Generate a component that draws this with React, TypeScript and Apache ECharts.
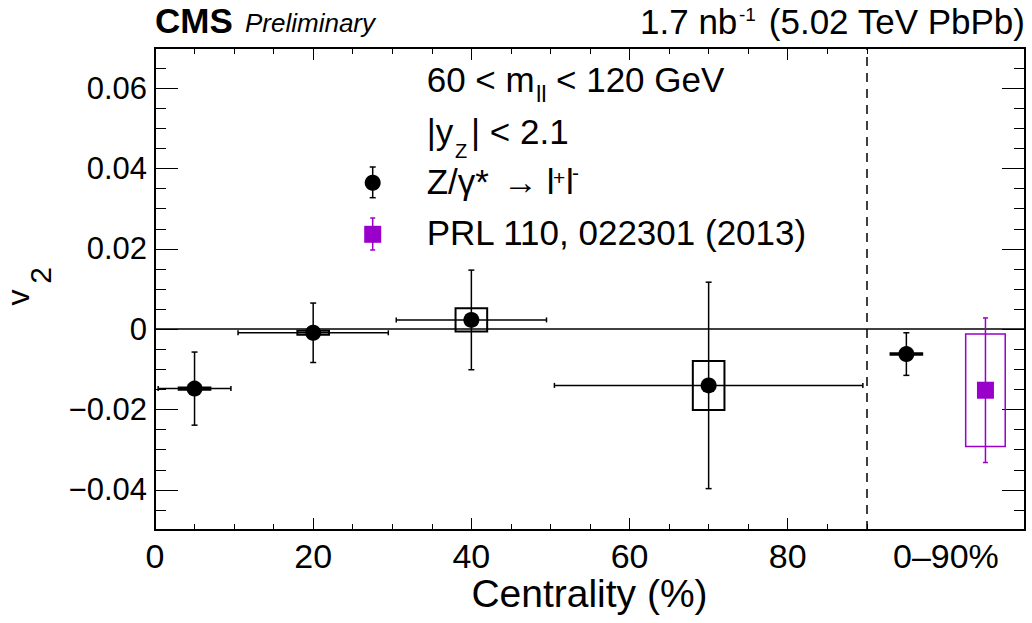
import React, { useEffect, useRef } from "react";
import * as echarts from "echarts";

// ---- data ----
const centrality = [5, 20, 40, 70, 95];
const v2 = [-0.0148, -0.0009, 0.0023, -0.014, -0.0062];
const statErr = [0.0091, 0.0074, 0.0124, 0.0257, 0.0053];
const sysErr = [0.0003, 0.0005, 0.0029, 0.0061, 0.0002];
const binHalfWidth = [4.6, 9.5, 9.5, 19.5, 0];
const boxHalfWidth = [2, 2, 2, 2, 2];

const prlX = [105];
const prlV2 = [-0.0152];
const prlStat = [0.018];
const prlSys = [0.014];
const prlBoxHalfWidth = [2.5];

const xMajorTicks = [0, 20, 40, 60, 80];
const xMinorTicks = [5, 10, 15, 25, 30, 35, 45, 50, 55, 65, 70, 75, 85, 90];
const xLabelValues = [0, 20, 40, 60, 80, 100];
const xLabelTexts = ["0", "20", "40", "60", "80", "0–90%"];
const yMajorTicks = [-0.04, -0.02, 0, 0.02, 0.04, 0.06];
const yLabelTexts = ["−0.04", "−0.02", "0", "0.02", "0.04", "0.06"];
const yMinorTicks = [
  -0.045, -0.035, -0.03, -0.025, -0.015, -0.01, -0.005, 0.005, 0.01, 0.015,
  0.025, 0.03, 0.035, 0.045, 0.05, 0.055, 0.065,
];
const dividerX = 90;

const FONT = "'Liberation Sans', Arial, Helvetica, sans-serif";
const PURPLE = "#9900cc";

function xLabel(v: number) {
  const i = xLabelValues.findIndex((t) => Math.abs(t - v) < 1e-6);
  return i >= 0 ? xLabelTexts[i] : "";
}
function yLabel(v: number) {
  const i = yMajorTicks.findIndex((t) => Math.abs(t - v) < 1e-9);
  return i >= 0 ? yLabelTexts[i] : "";
}

function errorBarRenderer(color: string, capV: number, capH: number) {
  return (params: any, api: any) => {
    const x = api.value(0);
    const y = api.value(1);
    const e = api.value(2);
    const xe = api.value(3);
    const top = api.coord([x, y + e]);
    const bot = api.coord([x, y - e]);
    const st = { stroke: color, lineWidth: 1.5 };
    const children: any[] = [
      { type: "line", shape: { x1: top[0], y1: top[1], x2: bot[0], y2: bot[1] }, style: st },
      { type: "line", shape: { x1: top[0] - capV, y1: top[1], x2: top[0] + capV, y2: top[1] }, style: st },
      { type: "line", shape: { x1: bot[0] - capV, y1: bot[1], x2: bot[0] + capV, y2: bot[1] }, style: st },
    ];
    if (xe > 0) {
      const l = api.coord([x - xe, y]);
      const r = api.coord([x + xe, y]);
      children.push(
        { type: "line", shape: { x1: l[0], y1: l[1], x2: r[0], y2: r[1] }, style: st },
        { type: "line", shape: { x1: l[0], y1: l[1] - capH, x2: l[0], y2: l[1] + capH }, style: st },
        { type: "line", shape: { x1: r[0], y1: r[1] - capH, x2: r[0], y2: r[1] + capH }, style: st }
      );
    }
    return { type: "group", children };
  };
}

function boxRenderer(color: string, lw: number) {
  return (params: any, api: any) => {
    const x = api.value(0);
    const y = api.value(1);
    const s = api.value(2);
    const w = api.value(3);
    const p1 = api.coord([x - w, y + s]);
    const p2 = api.coord([x + w, y - s]);
    return {
      type: "rect",
      shape: { x: p1[0], y: p1[1], width: p2[0] - p1[0], height: p2[1] - p1[1] },
      style: { fill: "none", stroke: color, lineWidth: lw },
    };
  };
}

function txt(text: string, x: number, y: number, fontSize: number, opts: any = {}) {
  return {
    type: "text",
    x,
    y,
    rotation: opts.rotation || 0,
    silent: true,
    style: {
      text,
      fontSize,
      lineHeight: opts.lineHeight || Math.round(fontSize * 0.85),
      fontFamily: opts.fontFamily || FONT,
      fontWeight: opts.fontWeight || "normal",
      fontStyle: opts.fontStyle || "normal",
      fill: opts.fill || "#000",
      align: opts.align || "left",
      textAlign: opts.align || "left",
      verticalAlign: "middle",
      textVerticalAlign: "middle",
    },
  };
}

function line(x1: number, y1: number, x2: number, y2: number, color: string) {
  return {
    type: "line",
    silent: true,
    shape: { x1, y1, x2, y2 },
    style: { stroke: color, lineWidth: 1.5 },
  };
}

export default function App() {
  const ref = useRef<HTMLDivElement>(null);

  useEffect(() => {
    if (!ref.current) return;
    const chart = echarts.init(ref.current, undefined, { renderer: "svg" });

    const xBase: any = {
      type: "value",
      min: 0,
      max: 110,
      axisLine: { show: false, onZero: false },
      splitLine: { show: false },
      axisLabel: { show: false },
    };
    const yBase: any = {
      type: "value",
      min: -0.05,
      max: 0.07,
      axisLine: { show: false, onZero: false },
      splitLine: { show: false },
      axisLabel: { show: false },
    };
    const tick = (length: number, values: number[]) => ({
      show: true,
      inside: true,
      length,
      customValues: values,
      lineStyle: { color: "#000", width: 1 },
    });

    const option: any = {
      animation: false,
      backgroundColor: "#fff",
      textStyle: { fontFamily: FONT },
      grid: {
        left: 155,
        right: 7,
        top: 48,
        bottom: 93,
        show: true,
        borderColor: "#000",
        borderWidth: 2,
        backgroundColor: "transparent",
      },
      xAxis: [
        {
          ...xBase,
          position: "bottom",
          axisTick: tick(12, xMajorTicks),
          axisLabel: {
            show: true,
            customValues: xLabelValues,
            formatter: (v: number) => xLabel(v),
            margin: 9,
            fontSize: 34,
            color: "#000",
            fontFamily: FONT,
          },
        },
        { ...xBase, position: "bottom", axisTick: tick(6, xMinorTicks) },
        { ...xBase, position: "top", axisTick: tick(12, xMajorTicks) },
        { ...xBase, position: "top", axisTick: tick(6, xMinorTicks) },
      ],
      yAxis: [
        {
          ...yBase,
          position: "left",
          axisTick: tick(23, yMajorTicks),
          axisLabel: {
            show: true,
            customValues: yMajorTicks,
            formatter: (v: number) => yLabel(v),
            margin: 8,
            fontSize: 31,
            color: "#000",
            fontFamily: FONT,
          },
        },
        { ...yBase, position: "left", axisTick: tick(11, yMinorTicks) },
        { ...yBase, position: "right", axisTick: tick(23, yMajorTicks) },
        { ...yBase, position: "right", axisTick: tick(11, yMinorTicks) },
      ],
      series: [
        {
          type: "custom",
          name: "CMS syst",
          xAxisIndex: 0,
          yAxisIndex: 0,
          data: centrality.map((x, i) => [x, v2[i], sysErr[i], boxHalfWidth[i]]),
          encode: { x: 0, y: 1 },
          renderItem: boxRenderer("#000", 2),
          silent: true,
          z: 3,
          markLine: {
            silent: true,
            symbol: "none",
            label: { show: false },
            z: 1,
            data: [
              { yAxis: 0, lineStyle: { type: "solid", width: 1.5, color: "#000" } },
              { xAxis: dividerX, lineStyle: { type: [9, 7], width: 1.5, color: "#000" } },
            ],
          },
        },
        {
          type: "custom",
          name: "PRL syst",
          xAxisIndex: 0,
          yAxisIndex: 0,
          data: prlX.map((x, i) => [x, prlV2[i], prlSys[i], prlBoxHalfWidth[i]]),
          encode: { x: 0, y: 1 },
          renderItem: boxRenderer(PURPLE, 1.5),
          silent: true,
          z: 3,
        },
        {
          type: "custom",
          name: "CMS stat",
          xAxisIndex: 0,
          yAxisIndex: 0,
          data: centrality.map((x, i) => [x, v2[i], statErr[i], binHalfWidth[i]]),
          encode: { x: 0, y: 1 },
          renderItem: errorBarRenderer("#000", 3, 2.5),
          silent: true,
          z: 4,
        },
        {
          type: "custom",
          name: "PRL stat",
          xAxisIndex: 0,
          yAxisIndex: 0,
          data: prlX.map((x, i) => [x, prlV2[i], prlStat[i], 0]),
          encode: { x: 0, y: 1 },
          renderItem: errorBarRenderer(PURPLE, 2.5, 2.5),
          silent: true,
          z: 4,
        },
        {
          type: "scatter",
          name: "Z/γ* → l+l-",
          xAxisIndex: 0,
          yAxisIndex: 0,
          symbol: "circle",
          symbolSize: 16,
          itemStyle: { color: "#000", opacity: 1 },
          data: centrality.map((x, i) => [x, v2[i]]),
          silent: true,
          z: 5,
        },
        {
          type: "scatter",
          name: "PRL 110, 022301 (2013)",
          xAxisIndex: 0,
          yAxisIndex: 0,
          symbol: "rect",
          symbolSize: 17,
          itemStyle: { color: PURPLE, opacity: 1 },
          data: prlX.map((x, i) => [x, prlV2[i]]),
          silent: true,
          z: 5,
        },
      ],
      graphic: [
        // header
        txt("CMS", 155, 20.3, 35, { fontWeight: "bold" }),
        txt("Preliminary", 245, 23.2, 26, { fontStyle: "italic" }),
        txt("1.7 nb", 640, 21, 35),
        txt("-1", 739, 14, 19),
        txt("(5.02 TeV PbPb)", 1025, 21, 35, { align: "right" }),
        // axis titles
        txt("Centrality (%)", 589.5, 593.2, 39, { align: "center" }),
        txt("v", 18, 297.5, 32, { align: "center", rotation: Math.PI / 2, lineHeight: 24 }),
        txt("2", 40, 275.5, 30, { align: "center", rotation: Math.PI / 2, lineHeight: 24 }),
        // legend text
        txt("60 < m", 426.7, 79.5, 35),
        txt("ll", 536, 93, 24, { lineHeight: 18 }),
        txt("< 120 GeV", 556, 79.5, 35),
        txt("|y", 426.7, 131.1, 35, { lineHeight: 28 }),
        txt("Z", 455, 150.5, 20, { lineHeight: 15 }),
        txt("| < 2.1", 471, 131.1, 35, { lineHeight: 28 }),
        txt("Z/γ*", 426.7, 181.3, 35),
        txt("→", 503, 181.3, 35),
        txt("l", 546.7, 181.3, 35),
        txt("+", 553, 177, 21, { lineHeight: 14 }),
        txt("l", 566, 181.3, 35),
        txt("-", 572, 172.5, 21, { lineHeight: 14 }),
        txt("PRL 110, 022301 (2013)", 426.7, 232.8, 35),
        // legend markers
        line(372.7, 167, 372.7, 197.7, "#000"),
        line(369.7, 167, 375.7, 167, "#000"),
        line(369.7, 197.7, 375.7, 197.7, "#000"),
        {
          type: "circle",
          silent: true,
          shape: { cx: 372.7, cy: 182.7, r: 8 },
          style: { fill: "#000" },
        },
        line(372.7, 218, 372.7, 250, PURPLE),
        line(370.2, 218, 375.2, 218, PURPLE),
        line(370.2, 250, 375.2, 250, PURPLE),
        {
          type: "rect",
          silent: true,
          shape: { x: 364.2, y: 225.8, width: 17, height: 17 },
          style: { fill: PURPLE },
        },
      ],
    };

    chart.setOption(option);
    return () => chart.dispose();
  }, []);

  return (
    <div
      ref={ref}
      style={{ position: "absolute", left: 0, top: 0, width: 1032, height: 623 }}
    />
  );
}
